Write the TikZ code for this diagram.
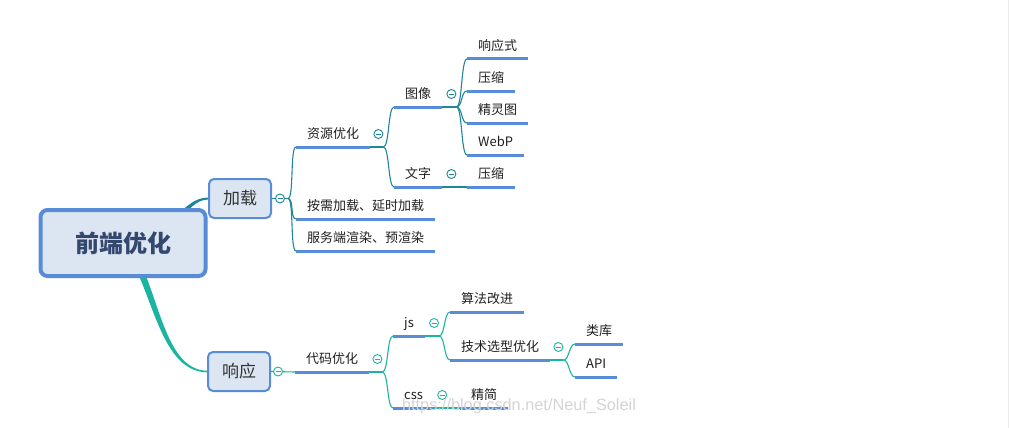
\documentclass[tikz,border=0pt]{standalone}
\usepackage{fontspec}
\setmainfont{Noto Sans CJK SC}
\newfontfamily\wmfont{Liberation Sans}
\usetikzlibrary{positioning,backgrounds}
\definecolor{upc}{RGB}{30,134,152}
\definecolor{lowc}{RGB}{27,180,160}
\definecolor{ulc}{RGB}{88,140,214}
\definecolor{boxfill}{RGB}{220,230,242}
\definecolor{roottext}{RGB}{52,72,110}
\definecolor{wmc}{RGB}{212,212,212}
\tikzset{
  topic/.style={font=\fontsize{13}{15}\selectfont, text=black!88, inner xsep=11pt, inner ysep=5pt, text height=9.5pt, text depth=3pt, anchor=south west},
  uline/.style={draw=ulc, line width=3pt},
  upline/.style={draw=upc, line width=1.1pt},
  lowline/.style={draw=lowc, line width=1.1pt},
  fork/.style={out=0, in=180, distance=6pt},
  fold/.style={circle, draw=#1, fill=white, line width=0.9pt, minimum size=9pt, inner sep=0pt,
    path picture={\draw[#1, line width=0.8pt] ([xshift=-2.5pt]path picture bounding box.center) -- ([xshift=2.5pt]path picture bounding box.center);}},
  subbox/.style={draw=ulc, fill=boxfill, line width=2pt, rounded corners=5pt, minimum width=62pt, minimum height=39pt, font=\fontsize{17}{20}\selectfont, text=black!80},
  rootbox/.style={draw=ulc, fill=boxfill, line width=4pt, rounded corners=7pt, minimum width=165pt, minimum height=66pt, font=\fontsize{24}{28}\selectfont\bfseries, text=roottext},
  wm/.style={font=\wmfont\fontsize{16.3}{19}\selectfont, text=wmc}
}
\begin{document}
\begin{tikzpicture}[x=1pt,y=-1pt]
\useasboundingbox (0,0) rectangle (1009,428);
\draw[black!8] (1008.5,0) -- (1008.5,428);

% centre and main topics
\node[rootbox] (root) at (123,243) {前端优化};
\node[subbox] (jiazai) at (240,198.5) {加载};
\node[subbox] (xiangy) at (239,371.5) {响应};

% 加载
\node[topic] (ziyuan) at (296,147) {资源优化};
\node[topic] (anxu) at (296,219) {按需加载、延时加载};
\node[topic] (fuwu) at (296,251) {服务端渲染、预渲染};
\node[topic] (tuxiang) at (394,107) {图像};
\node[topic] (wenzi) at (394,187) {文字};
\node[topic] (xys) at (467,59) {响应式};
\node[topic] (ys1) at (467,91) {压缩};
\node[topic] (jlt) at (467,123) {精灵图};
\node[topic] (webp) at (467,155) {WebP};
\node[topic] (ys2) at (467,187) {压缩};

% 响应
\node[topic] (daima) at (295,372) {代码优化};
\node[topic] (js) at (393,336) {js};
\node[topic] (css) at (393,408) {css};
\node[topic] (suanfa) at (450,312) {算法改进};
\node[topic] (jishu) at (450,360) {技术选型优化};
\node[topic] (leiku) at (575,344) {类库};
\node[topic] (api) at (575,377) {API};
\node[topic] (jingjian) at (460,408) {精简};

\begin{scope}[on background layer]
\fill[upc] ([yshift=4pt]root.center) .. controls (175,236) and (180,198) .. ([yshift=1pt]jiazai.west)
  -- ([yshift=-1pt]jiazai.west) .. controls (183,200) and (178,244) .. ([yshift=-4pt]root.center) -- cycle;
\fill[lowc] ([xshift=4pt]root.center) .. controls (158,274) and (160,370.3) .. ([yshift=0.8pt]xiangy.west)
  -- ([yshift=-0.8pt]xiangy.west) .. controls (156,371.8) and (152,276) .. ([xshift=-4pt]root.center) -- cycle;
\end{scope}

% upper branches
\coordinate (jj) at ([xshift=16pt]jiazai.east);
\draw[upline] (jiazai.east) -- (jj);
\foreach \c in {ziyuan,anxu,fuwu} \draw[upline] (jj) to[fork] (\c.south west);
\coordinate (jz) at ([xshift=13pt]ziyuan.south east);
\draw[upline] (ziyuan.south east) -- (jz);
\foreach \c in {tuxiang,wenzi} \draw[upline] (jz) to[fork] (\c.south west);
\coordinate (jt) at ([xshift=14pt]tuxiang.south east);
\draw[upline] (tuxiang.south east) -- (jt);
\foreach \c in {xys,ys1,jlt,webp} \draw[upline] (jt) to[fork] (\c.south west);
\draw[upline] (wenzi.south east) -- (ys2.south west);

% lower branches
\draw[lowline] (xiangy.east) -- (daima.south west);
\coordinate (jd) at ([xshift=13pt]daima.south east);
\draw[lowline] (daima.south east) -- (jd);
\foreach \c in {js,css} \draw[lowline] (jd) to[fork] (\c.south west);
\coordinate (jjs) at ([xshift=14pt]js.south east);
\draw[lowline] (js.south east) -- (jjs);
\foreach \c in {suanfa,jishu} \draw[lowline] (jjs) to[fork] (\c.south west);
\coordinate (jjt) at ([xshift=13pt]jishu.south east);
\draw[lowline] (jishu.south east) -- (jjt);
\foreach \c in {leiku,api} \draw[lowline] (jjt) to[fork] (\c.south west);
\draw[lowline] (css.south east) -- (jingjian.south west);

% underlines
\foreach \n in {ziyuan,anxu,fuwu,tuxiang,wenzi,xys,ys1,jlt,webp,ys2,daima,js,css,suanfa,jishu,leiku,api,jingjian}
  \draw[uline] (\n.south west) -- (\n.south east);

% fold marks
\node[fold=upc] (f1) at ([xshift=8pt]jiazai.east) {};
\node[fold=upc] (f2) at ([xshift=8pt,yshift=13pt]ziyuan.south east) {};
\node[fold=upc] (f3) at ([xshift=9pt,yshift=13pt]tuxiang.south east) {};
\node[fold=upc] (f4) at ([xshift=9pt,yshift=13pt]wenzi.south east) {};
\node[fold=lowc] (f5) at ([xshift=7pt]xiangy.east) {};
\node[fold=lowc] (f6) at ([xshift=8pt,yshift=13pt]daima.south east) {};
\node[fold=lowc] (f7) at ([xshift=9pt,yshift=13pt]js.south east) {};
\node[fold=lowc] (f8) at ([xshift=8pt,yshift=13pt]jishu.south east) {};
\node[fold=lowc] (f9) at ([xshift=8pt,yshift=13pt]css.south east) {};

\node[wm] (mark) at (519,406) {https://blog.csdn.net/Neuf\_Soleil};
\end{tikzpicture}
\end{document}
